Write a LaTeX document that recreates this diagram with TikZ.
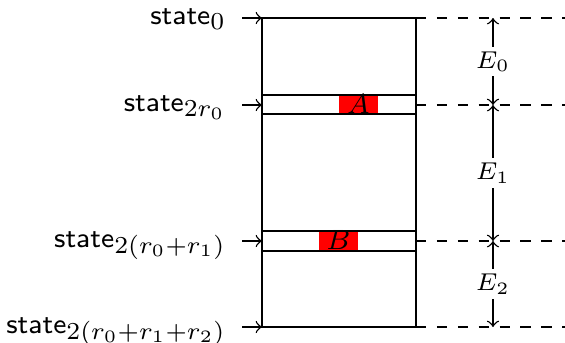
\documentclass[tikz,border=0pt]{standalone}
\newcommand{\stlbl}[1]{{\footnotesize\sffamily state}$_{#1}$}
\begin{document}
\begin{tikzpicture}[x=0.28736pt,y=-0.28736pt,
  lbl/.style={anchor=east,inner xsep=4.4pt,inner ysep=0pt,text height=3.55pt,text depth=0pt},
  redbox/.style={fill=red,draw=none,inner sep=0pt,minimum height=5.5pt,minimum width=11.2pt,
    text height=5pt,text depth=0pt,font=\footnotesize},
  elbl/.style={fill=white,inner xsep=1pt,inner ysep=1.4pt,font=\scriptsize}]
\useasboundingbox (0,0) rectangle (565,342);
% main rectangle
\coordinate (TL) at (262,18);
\coordinate (BR) at (416,327);
% red boxes
\node[redbox] (A) at (358.5,104.5) {$A$};
\node[redbox] (B) at (338.5,241) {$B$};
\draw (TL) rectangle (BR);
% bands
\draw (262,95) -- (416,95);
\draw (262,114) -- (416,114);
\draw (262,231) -- (416,231);
\draw (262,251) -- (416,251);
% level coordinates
\coordinate (L0) at (262,18);
\coordinate (L1) at (262,105);
\coordinate (L2) at (262,241);
\coordinate (L3) at (262,327);
\coordinate (R0) at (416,18);
\coordinate (R1) at (416,105);
\coordinate (R2) at (416,241);
\coordinate (R3) at (416,327);
\coordinate (D0) at (565,18);
\coordinate (D1) at (565,105);
\coordinate (D2) at (565,241);
\coordinate (D3) at (565,327);
% labels
\node[lbl] (s0) at (242,18) {\stlbl{0}};
\node[lbl] (s1) at (242,105) {\stlbl{2r_0}};
\node[lbl] (s2) at (242,241) {\stlbl{2(r_0+r_1)}};
\node[lbl] (s3) at (242,327) {\stlbl{2(r_0+r_1+r_2)}};
\draw[->] (s0) -- (L0);
\draw[->] (s1) -- (L1);
\draw[->] (s2) -- (L2);
\draw[->] (s3) -- (L3);
% dashed levels
\draw[dashed] (R0) -- (D0);
\draw[dashed] (R1) -- (D1);
\draw[dashed] (R2) -- (D2);
\draw[dashed] (R3) -- (D3);
% energy arrows
\coordinate (e0) at (493,18);
\coordinate (e1) at (493,105);
\coordinate (e2) at (493,241);
\coordinate (e3) at (493,327);
\draw[<->] (e0) -- node[elbl] (E0) {$E_0$} (e1);
\draw[<->] (e1) -- node[elbl] (E1) {$E_1$} (e2);
\draw[<->] (e2) -- node[elbl] (E2) {$E_2$} (e3);
\end{tikzpicture}
\end{document}
